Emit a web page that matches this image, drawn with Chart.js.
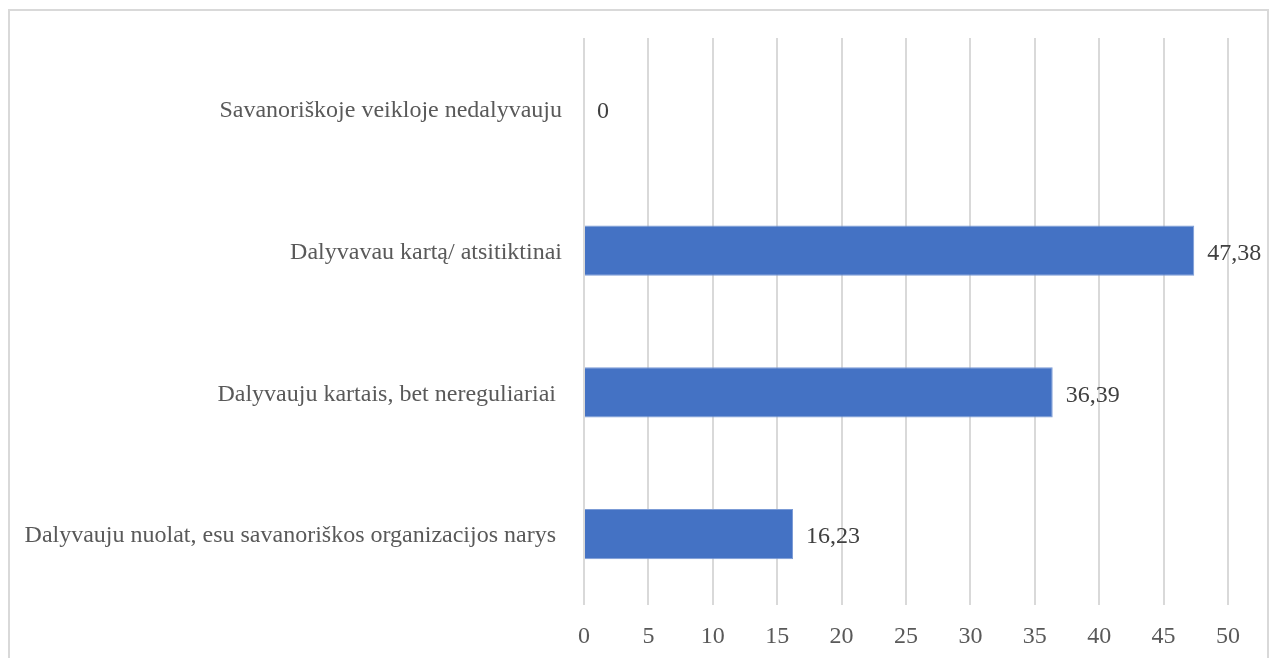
<!DOCTYPE html>
<html>
<head>
<meta charset="utf-8">
<script src="https://cdn.jsdelivr.net/npm/chart.js@4/dist/chart.umd.min.js"></script>
<style>
  html, body { margin: 0; padding: 0; background: #fff; overflow: hidden; }
  .frame { position: absolute; left: 8px; top: 9px; width: 1257px; height: 656px; border: 2px solid #d9d9d9; }
  canvas { display: block; }
</style>
</head>
<body>
<div class="frame"><canvas id="bars" width="1257" height="656"></canvas></div>
<script>
const categories = [
  'Savanoriškoje veikloje nedalyvauju',
  'Dalyvavau kartą/ atsitiktinai',
  'Dalyvauju kartais, bet nereguliariai ',
  'Dalyvauju nuolat, esu savanoriškos organizacijos narys '
]
const values = [0, 47.38, 36.39, 16.23]
const xTicks = [0, 5, 10, 15, 20, 25, 30, 35, 40, 45, 50]

const font = { family: '"Liberation Serif", "Times New Roman", serif', size: 24 }

// value labels just past the bar ends, with a decimal comma
const valueLabels = {
  id: 'valueLabels',
  afterDatasetsDraw(chart) {
    const ctx = chart.ctx
    const meta = chart.getDatasetMeta(0)
    ctx.save()
    ctx.font = `${font.size}px ${font.family}`
    ctx.fillStyle = '#404040'
    ctx.textBaseline = 'middle'
    ctx.textAlign = 'left'
    meta.data.forEach((bar, i) => {
      const txt = String(values[i]).replace('.', ',')
      ctx.fillText(txt, bar.x + 13, bar.y + 3)
    })
    ctx.restore()
  }
}

new Chart(document.getElementById('bars').getContext('2d'), {
  type: 'bar',
  data: {
    labels: categories,
    datasets: [{
      data: values,
      backgroundColor: '#4472c4',
      borderColor: '#7b9bd6',
      borderWidth: 1,
      categoryPercentage: 1,
      barPercentage: 0.355
    }]
  },
  options: {
    indexAxis: 'y',
    responsive: false,
    animation: false,
    layout: { padding: { top: 27, right: 39, left: 0, bottom: 0 } },
    plugins: { legend: { display: false }, tooltip: { enabled: false } },
    scales: {
      x: {
        min: 0,
        max: 50,
        afterBuildTicks: axis => { axis.ticks = xTicks.map(v => ({ value: v })) },
        afterFit: axis => {
          axis.height = 62
          axis.paddingLeft = 0
          axis.paddingRight = 0
        },
        grid: { color: '#d9d9d9', lineWidth: 2, drawTicks: false },
        border: { display: false },
        ticks: { font, color: '#595959', padding: 17 }
      },
      y: {
        afterFit: axis => {
          axis.width = 574
          axis.paddingTop = 0
          axis.paddingBottom = 0
        },
        grid: { display: false, drawTicks: false },
        border: { display: false },
        ticks: { font, color: '#595959', padding: 22, labelOffset: 2 }
      }
    }
  },
  plugins: [valueLabels]
})
</script>
</body>
</html>
